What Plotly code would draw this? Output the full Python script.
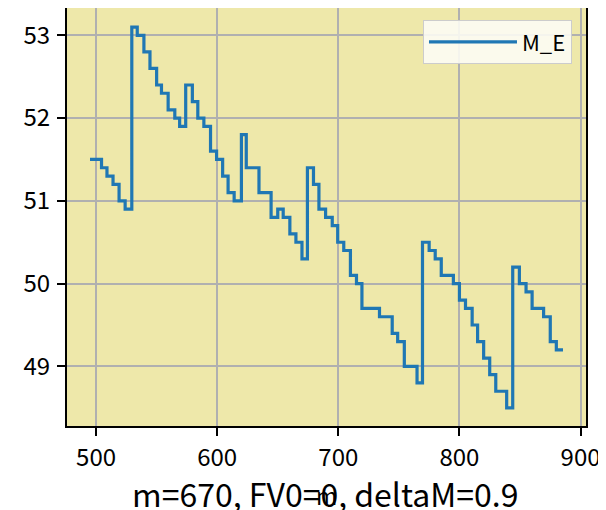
import plotly.graph_objects as go

# step change points: m where M_E changes, and the new value
m_steps = [495, 504.5, 509, 514, 519, 524, 529.5, 534, 539.5, 544.5, 550, 554,
           559.5, 565, 569, 574, 579.5, 584, 589, 594.5, 599.5, 604.5, 609, 614,
           620, 624, 634.5, 644.5, 650, 654.5, 660, 665, 670, 674.5, 679.5, 684,
           689.5, 695, 699.5, 704.5, 710, 715, 719.5, 734, 744.5, 749, 754.5, 765,
           769.5, 775, 780, 785, 795, 800, 805, 810.5, 815, 820, 825, 830, 839,
           844, 849.5, 855, 860, 869.5, 875, 880, 885.5]
me_values = [51.5, 51.4, 51.3, 51.2, 51.0, 50.9, 53.1, 53.0, 52.8, 52.6, 52.4, 52.3,
             52.1, 52.0, 51.9, 52.4, 52.2, 52.0, 51.9, 51.6, 51.5, 51.3, 51.1, 51.0,
             51.8, 51.4, 51.1, 50.8, 50.9, 50.8, 50.6, 50.5, 50.3, 51.4, 51.2, 50.9,
             50.8, 50.7, 50.5, 50.4, 50.1, 50.0, 49.7, 49.6, 49.4, 49.3, 49.0, 48.8,
             50.5, 50.4, 50.3, 50.1, 50.0, 49.8, 49.7, 49.5, 49.3, 49.1, 48.9, 48.7, 48.5,
             50.2, 50.0, 49.9, 49.7, 49.6, 49.3, 49.2, 49.2]

x_ticks = [500, 600, 700, 800, 900]
y_ticks = [49, 50, 51, 52, 53]
caption = "m=670, FV0=0, deltaM=0.9"

FONT = "Noto Sans CJK SC"

fig = go.Figure()
fig.add_trace(go.Scatter(
    x=m_steps, y=me_values, mode="lines", name="M_E",
    line=dict(color="#1f77b4", width=3.2, shape="hv"),
))

axis_common = dict(
    showline=True, linecolor="black", linewidth=2, mirror=True,
    ticks="outside", ticklen=8, tickwidth=1.5, tickcolor="black",
    showgrid=True, gridcolor="#b0b0b0", gridwidth=1.6,
    zeroline=False, tickfont=dict(family=FONT, size=24, color="black"),
)
fig.update_xaxes(range=[476, 904.5], tickvals=x_ticks, ticklabelstandoff=1, **axis_common)
fig.update_yaxes(range=[48.28, 53.33], tickvals=y_ticks, ticklabelstandoff=2, **axis_common)

# the page body has an 8px margin, so the figure is 8px smaller than the window
fig.update_layout(
    width=598, height=502,
    margin=dict(l=59, r=20, t=0, b=84, autoexpand=False),
    paper_bgcolor="white", plot_bgcolor="#eee8aa",
    font=dict(family=FONT, color="black"),
    showlegend=True,
    legend=dict(
        x=0.973, y=0.971, xanchor="right", yanchor="top",
        bgcolor="rgba(252,252,244,0.9)", bordercolor="#cccccc", borderwidth=1,
        font=dict(family=FONT, size=22, color="black"),
        itemwidth=88,
    ),
    annotations=[
        dict(text=caption, xref="paper", yref="paper", x=0.498, y=0,
             yshift=-67, xanchor="center", yanchor="middle", showarrow=False,
             font=dict(family=FONT, size=32, color="black")),
        dict(text="m", xref="paper", yref="paper", x=0.5, y=0,
             yshift=-69, xanchor="center", yanchor="middle", showarrow=False,
             font=dict(family=FONT, size=23, color="black")),
    ],
)

fig.write_html("out.html")
